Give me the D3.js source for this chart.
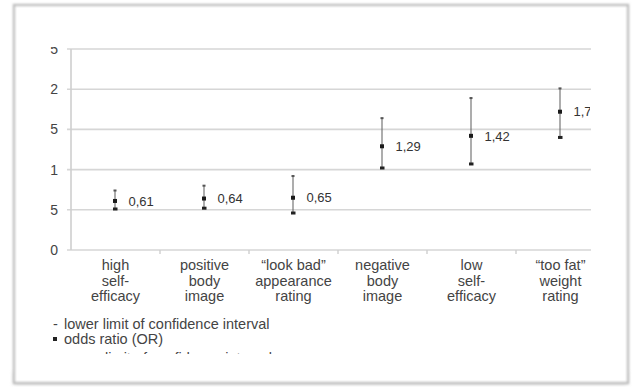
<!DOCTYPE html>
<html>
<head>
<meta charset="utf-8">
<script src="https://cdn.jsdelivr.net/npm/d3@7"></script>
<style>
  html, body { margin: 0; padding: 0; background: #ffffff; }
  svg { display: block; }
  text { font-family: "Liberation Sans", Arial, Helvetica, sans-serif; }
</style>
</head>
<body>
<svg id="chart" width="633" height="388"></svg>
<script>
// ---- data ----
const categories = [
  "high\nself-\nefficacy",
  "positive\nbody\nimage",
  "\u201Clook bad\u201D\nappearance\nrating",
  "negative\nbody\nimage",
  "low\nself-\nefficacy",
  "\u201Ctoo fat\u201D\nweight\nrating"
];
const oddsRatio = [0.61, 0.64, 0.65, 1.29, 1.42, 1.72];
const lowerLimit = [0.51, 0.52, 0.46, 1.02, 1.07, 1.40];
const upperLimit = [0.74, 0.80, 0.92, 1.64, 1.89, 2.01];
const yTicks = [0, 0.5, 1, 1.5, 2, 2.5];
const legendItems = ["lower limit of confidence interval", "odds ratio (OR)", "upper limit of confidence interval"];
const fmt = v => d3.format(".2f")(v).replace(/0+$/, "").replace(/\.$/, "").replace(".", ",");

// ---- layout ----
const svg = d3.select("#chart");
const W = 633, H = 388;
const plot = { left: 71, right: 605, top: 49, bottom: 250, gridRight: 591 };

const defs = svg.append("defs");
const f = defs.append("filter").attr("id", "blur").attr("x", "-5%").attr("y", "-5%").attr("width", "110%").attr("height", "110%");
f.append("feGaussianBlur").attr("stdDeviation", 1.3);
const fb = defs.append("filter").attr("id", "blur2").attr("x", "-5%").attr("y", "-20%").attr("width", "110%").attr("height", "140%");
fb.append("feGaussianBlur").attr("stdDeviation", 2.2);
defs.append("clipPath").attr("id", "yclip").append("rect").attr("x", 50).attr("y", 47).attr("width", 30).attr("height", 215);
defs.append("clipPath").attr("id", "plotclip").append("rect").attr("x", 0).attr("y", 0).attr("width", 590).attr("height", H);
defs.append("clipPath").attr("id", "legclip").append("rect").attr("x", 0).attr("y", 0).attr("width", W).attr("height", 354);

// card with shadowed edges
svg.append("rect").attr("x", 14).attr("y", 372).attr("width", 613).attr("height", 12)
  .attr("fill", "#d4d4d4").attr("filter", "url(#blur2)");
svg.append("rect").attr("x", 14).attr("y", 5).attr("width", 614).attr("height", 378)
  .attr("fill", "#ffffff").attr("stroke", "#bdbdbd").attr("stroke-width", 2.4).attr("filter", "url(#blur)");
svg.append("rect").attr("x", 17).attr("y", 8).attr("width", 608).attr("height", 372).attr("fill", "#ffffff");

// ---- scales ----
const x = d3.scaleBand().domain(categories).range([plot.left, plot.right]).padding(0);
const y = d3.scaleLinear().domain([0, 2.5]).range([plot.bottom, plot.top]);

// gridlines
svg.append("g").selectAll("line").data(yTicks).join("line")
  .attr("x1", plot.left - 4).attr("x2", plot.gridRight)
  .attr("y1", d => y(d)).attr("y2", d => y(d))
  .attr("stroke", "#d6d6d6").attr("stroke-width", 1.6);

// y axis line
svg.append("line").attr("x1", plot.left).attr("x2", plot.left)
  .attr("y1", y(2.5)).attr("y2", y(0)).attr("stroke", "#cfcfcf").attr("stroke-width", 1.6);

// y tick labels (cropped as in the reference)
svg.append("g").attr("clip-path", "url(#yclip)").selectAll("text").data(yTicks).join("text")
  .attr("x", 58).attr("y", d => y(d)).attr("dy", "0.36em")
  .attr("text-anchor", "end").attr("font-size", 14).attr("fill", "#444")
  .text(d => fmt(d));

// x category boundary ticks
svg.append("g").selectAll("line").data(categories.slice(1)).join("line")
  .attr("x1", d => x(d)).attr("x2", d => x(d))
  .attr("y1", y(0)).attr("y2", y(0) + 4)
  .attr("stroke", "#cfcfcf").attr("stroke-width", 1.4);

// category labels
const catG = svg.append("g");
categories.forEach(c => {
  const t = catG.append("text")
    .attr("x", x(c) + x.bandwidth() / 2).attr("y", 270)
    .attr("text-anchor", "middle").attr("font-size", 14.5).attr("fill", "#444");
  c.split("\n").forEach((ln, i) => {
    t.append("tspan").attr("x", x(c) + x.bandwidth() / 2).attr("dy", i === 0 ? 0 : 15.5).text(ln);
  });
});

// error bars
const cx = i => x(categories[i]) + x.bandwidth() / 2 - 0.5;
const marks = svg.append("g").attr("clip-path", "url(#plotclip)");
oddsRatio.forEach((v, i) => {
  marks.append("line").attr("x1", cx(i)).attr("x2", cx(i))
    .attr("y1", y(upperLimit[i])).attr("y2", y(lowerLimit[i]))
    .attr("stroke", "#6a6a6a").attr("stroke-width", 1.1);
  marks.append("rect").attr("x", cx(i) - 1.5).attr("y", y(upperLimit[i]) - 1)
    .attr("width", 3).attr("height", 2).attr("fill", "#555");
  marks.append("rect").attr("x", cx(i) - 2).attr("y", y(lowerLimit[i]) - 1.5)
    .attr("width", 4.5).attr("height", 3).attr("fill", "#222");
  marks.append("rect").attr("x", cx(i) - 2).attr("y", y(v) - 2)
    .attr("width", 4).attr("height", 4).attr("fill", "#1a1a1a");
  marks.append("text").attr("x", cx(i) + 13.5).attr("y", y(v)).attr("dy", "0.36em")
    .attr("font-size", 13).attr("fill", "#333").text(fmt(v));
});

// legend
const leg = svg.append("g").attr("clip-path", "url(#legclip)");
legendItems.forEach((txt, i) => {
  const ly = 324 + i * 15 + (i === 2 ? 4 : 0);
  if (i === 1) {
    leg.append("rect").attr("x", 53).attr("y", ly - 2).attr("width", 4).attr("height", 4).attr("fill", "#222");
  } else {
    leg.append("text").attr("x", 53).attr("y", ly).attr("dy", "0.36em")
      .attr("font-size", 14.5).attr("fill", "#444").text("-");
  }
  leg.append("text").attr("x", 64).attr("y", ly).attr("dy", "0.36em")
    .attr("font-size", 14.5).attr("fill", "#444").text(txt);
});
</script>
</body>
</html>
